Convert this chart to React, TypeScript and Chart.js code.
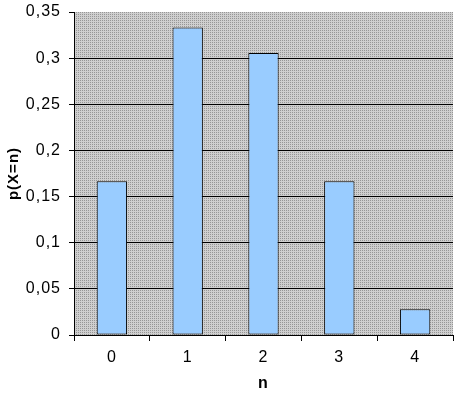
import { useEffect, useRef } from "react";
import { Chart, registerables } from "chart.js";

Chart.register(...registerables);

const categories = ["0", "1", "2", "3", "4"];
const probabilities = [0.1667, 0.3333, 0.3056, 0.1667, 0.0278];
const yTitle = "p(X=n)";
const xTitle = "n";

const FONT = "'Liberation Sans', Arial, sans-serif";

function makePattern(ctx: CanvasRenderingContext2D) {
  const c = document.createElement("canvas");
  c.width = 2;
  c.height = 2;
  const p = c.getContext("2d")!;
  p.fillStyle = "#cfcfcf";
  p.fillRect(0, 0, 2, 2);
  p.fillStyle = "#969696";
  p.fillRect(0, 0, 1, 1);
  return ctx.createPattern(c, "repeat")!;
}

export default function App() {
  const ref = useRef<HTMLCanvasElement>(null);
  useEffect(() => {
    document.body.style.margin = "0";
    const canvas = ref.current!;
    const bgPlugin = {
      id: "plotBg",
      beforeDraw(chart: any) {
        const { ctx, chartArea } = chart;
        ctx.save();
        ctx.fillStyle = "#ffffff";
        ctx.fillRect(0, 0, chart.width, chart.height);
        ctx.fillStyle = makePattern(ctx);
        ctx.fillRect(
          chartArea.left,
          chartArea.top,
          chartArea.right - chartArea.left,
          chartArea.bottom - chartArea.top
        );
        ctx.restore();
        try {
          (ctx as any).letterSpacing = "1px";
        } catch (e) {}
      },
    };
    const chart = new Chart(canvas, {
      type: "bar",
      data: {
        labels: categories,
        datasets: [
          {
            data: probabilities,
            backgroundColor: "#99ccff",
            borderColor: "#000000",
            borderWidth: 1,
            borderSkipped: false,
            categoryPercentage: 1,
            barPercentage: 0.4,
          },
        ],
      },
      options: {
        animation: false,
        responsive: false,
        maintainAspectRatio: false,
        layout: { padding: { left: 0, right: 13, top: 12, bottom: 0 } },
        plugins: { legend: { display: false }, tooltip: { enabled: false } },
        scales: {
          x: {
            afterFit(scale: any) {
              scale.height = 61;
              scale.paddingLeft = 0;
              scale.paddingRight = 0;
            },
            grid: {
              offset: true,
              drawOnChartArea: false,
              color: "#000000",
              tickColor: "#000000",
              tickLength: 6,
            },
            border: { color: "#000000", width: 1 },
            ticks: {
              color: "#000000",
              font: { family: FONT, size: 16 },
              padding: 7,
            },
            title: {
              display: true,
              text: xTitle,
              color: "#000000",
              font: { family: FONT, size: 16, weight: "bold" },
              padding: { top: 0, bottom: 3 },
            },
          },
          y: {
            min: 0,
            max: 0.35,
            afterFit(scale: any) {
              scale.width = 74;
              scale.paddingTop = 0;
              scale.paddingBottom = 0;
            },
            ticks: {
              stepSize: 0.05,
              color: "#000000",
              font: { family: FONT, size: 16 },
              padding: 8,
              callback: (v: any) =>
                Number(Number(v).toFixed(2)).toString().replace(".", ","),
            },
            grid: {
              color: (ctx: any) =>
                ctx.tick && Math.abs(ctx.tick.value - 0.35) < 1e-9
                  ? "rgba(0,0,0,0)"
                  : "#000000",
              tickColor: "#000000",
              tickLength: 5,
            },
            border: { color: "#000000", width: 1 },
            title: {
              display: true,
              text: yTitle,
              color: "#000000",
              font: { family: FONT, size: 15, weight: "bold" },
              padding: { top: 5, bottom: 0 },
            },
          },
        },
      },
      plugins: [bgPlugin],
    });
    return () => chart.destroy();
  }, []);
  return (
    <canvas
      ref={ref}
      width={466}
      height={396}
      style={{ display: "block", width: 466, height: 396 }}
    />
  );
}
